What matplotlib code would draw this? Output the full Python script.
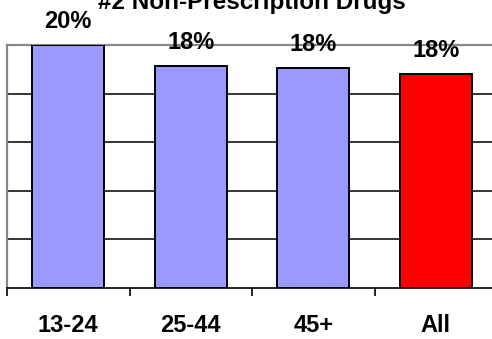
import matplotlib
matplotlib.use("Agg")
import matplotlib.pyplot as plt
from matplotlib.ticker import FixedLocator

plt.rcParams['font.family'] = ['Liberation Sans', 'DejaVu Sans']

categories = ["13-24", "25-44", "45+", "All"]
values = [20.0, 18.3, 18.1, 17.6]
colors = ["#9999FF", "#9999FF", "#9999FF", "#FF0000"]
title = "#2 Non-Prescription Drugs"

fig = plt.figure(figsize=(4.92, 3.39), dpi=100)
ax = fig.add_axes([7 / 492, 51 / 339, 490 / 492, 243 / 339])

x = list(range(len(categories)))
bars = ax.bar(x, values, width=0.59, color=colors, edgecolor="black",
              linewidth=1.4, zorder=3)

ax.set_xlim(-0.5, len(categories) - 0.5)
ax.set_ylim(0, 20)

# horizontal gridlines
for yv in [4, 8, 12, 16]:
    ax.axhline(yv, color="black", linewidth=1.1, zorder=1)

ax.spines["top"].set_color("#888888")
ax.spines["top"].set_linewidth(1.6)
ax.spines["left"].set_color("#888888")
ax.spines["left"].set_linewidth(1.6)
ax.spines["right"].set_visible(False)
ax.spines["bottom"].set_color("black")
ax.spines["bottom"].set_linewidth(1.2)

ax.set_yticks([])
ax.set_xticks(x)
ax.set_xticklabels(categories, fontsize=17, fontweight="bold")
ax.tick_params(axis="x", which="major", length=0, pad=18.5)
ax.xaxis.set_minor_locator(FixedLocator([i - 0.5 for i in range(len(categories) + 1)]))
ax.tick_params(axis="x", which="minor", length=6, width=1.2, color="black",
               direction="out")

for b, v in zip(bars, values):
    ax.annotate(f"{v:.0f}%", (b.get_x() + b.get_width() / 2, v),
                xytext=(0, 12), textcoords="offset points",
                ha="center", va="baseline", fontsize=17, fontweight="bold",
                annotation_clip=False, zorder=4)

fig.text(252 / 492, 330 / 339, title, ha="center", va="baseline",
         fontsize=17.5, fontweight="bold")

fig.savefig("out.png", dpi=100)
